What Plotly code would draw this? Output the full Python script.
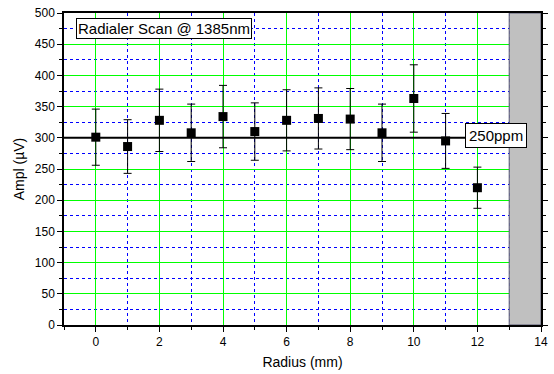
import plotly.graph_objects as go

# Radial scan measurements
radius_mm = [0, 1, 2, 3, 4, 5, 6, 7, 8, 9, 10, 11, 12]
ampl_uv = [301, 286, 328, 308, 334, 310, 328, 331, 330, 308, 363, 295, 220]
ampl_err = [45, 43, 50, 46, 50, 46, 49, 49, 49, 46, 54, 44, 33]

reference_level = 300
blocked_from, blocked_to = 13, 14

FONT = "Liberation Sans, Arial, sans-serif"

fig = go.Figure()

fig.add_trace(go.Scatter(
    x=radius_mm, y=ampl_uv,
    mode="markers",
    marker=dict(symbol="square", size=9, color="black"),
    error_y=dict(type="data", array=ampl_err, visible=True,
                 color="black", thickness=1, width=4),
    showlegend=False,
))

# Reference level line
fig.add_shape(type="line", xref="x", yref="y",
              x0=-1, x1=blocked_to, y0=reference_level, y1=reference_level,
              line=dict(color="black", width=2), layer="above")

# Shaded region beyond the measurable radius
fig.add_shape(type="rect", xref="x", yref="y",
              x0=blocked_from, x1=blocked_to, y0=0, y1=500,
              fillcolor="#c0c0c0", line=dict(color="#555570", width=1),
              layer="above")

fig.add_annotation(x=0.026, y=0.985, xref="paper", yref="paper",
                   xanchor="left", yanchor="top",
                   text="Radialer Scan @ 1385nm", showarrow=False,
                   font=dict(family=FONT, size=15, color="black"),
                   bgcolor="white", bordercolor="black", borderwidth=1,
                   borderpad=1)

fig.add_annotation(x=11.6, y=reference_level + 4, xref="x", yref="y",
                   xanchor="left", yanchor="middle",
                   text="250ppm", showarrow=False,
                   font=dict(family=FONT, size=15, color="black"),
                   bgcolor="white", bordercolor="black", borderwidth=1,
                   borderpad=3)

axis_common = dict(
    showline=True, linecolor="black", linewidth=1.5,
    ticks="outside", ticklen=5, tickwidth=1, tickcolor="black",
    showgrid=True, gridcolor="#00ff00", gridwidth=1,
    zeroline=False,
    tickfont=dict(family=FONT, size=12, color="black"),
)

fig.update_xaxes(
    range=[-1, 14], dtick=2, tick0=0, mirror=True,
    minor=dict(dtick=1, ticks="outside", ticklen=3, tickcolor="black",
               showgrid=True, gridcolor="#0000ff", griddash="dot", gridwidth=1),
    title=dict(text="Radius (mm)", font=dict(family=FONT, size=14, color="black"),
               standoff=9),
    **axis_common,
)
fig.update_yaxes(
    range=[0, 500], dtick=50, tick0=0, mirror="ticks",
    minor=dict(dtick=25, ticks="outside", ticklen=3, tickcolor="black",
               showgrid=True, gridcolor="#0000ff", griddash="dot", gridwidth=1),
    title=dict(text="Ampl (\u00b5V)", font=dict(family=FONT, size=14, color="black"),
               standoff=7),
    **axis_common,
)

fig.update_layout(
    width=554, height=374,
    margin=dict(l=64, r=6, t=10, b=47),
    plot_bgcolor="white", paper_bgcolor="white",
    font=dict(family=FONT, color="black"),
)

fig.write_html("out.html")
